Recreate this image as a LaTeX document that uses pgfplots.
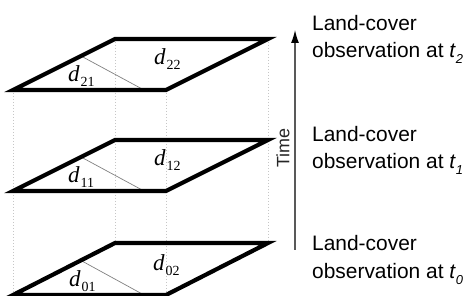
\documentclass[border=0pt]{standalone}
\usepackage{pgfplots}
\pgfplotsset{compat=1.18}
\usepackage{fontspec}
\setmainfont{Liberation Sans}
\newfontfamily\tms{Liberation Serif}
\usetikzlibrary{arrows.meta}
\newcommand\dl[1]{{\tms\fontsize{23}{23}\selectfont\itshape d\upshape\hspace{1bp}\raisebox{-5bp}{\fontsize{14}{14}\selectfont #1}}}
\newcommand\tl[1]{\textit{t}\raisebox{-6bp}{\fontsize{13}{13}\selectfont\itshape #1}}
\begin{document}
\begin{tikzpicture}
\begin{axis}[at={(0,0)},anchor=south west,scale only axis,width=468bp,height=296bp,
  xmin=0,xmax=468,ymin=0,ymax=296,hide axis,clip=false]
% dotted guide lines
\addplot[gray!45,line width=0.6bp,dash pattern=on 1.5bp off 1.5bp] coordinates {(13,206) (13,1)};
\addplot[gray!45,line width=0.6bp,dash pattern=on 1.5bp off 1.5bp] coordinates {(115,257) (115,53)};
\addplot[gray!45,line width=0.6bp,dash pattern=on 1.5bp off 1.5bp] coordinates {(166,206) (166,1)};
\addplot[gray!45,line width=0.6bp,dash pattern=on 1.5bp off 1.5bp] coordinates {(268,257) (268,53)};
% thin diagonals
\addplot[gray,line width=0.7bp] coordinates {(81,240) (144,206)};
\addplot[gray,line width=0.7bp] coordinates {(81,139) (144,105)};
\addplot[gray,line width=0.7bp] coordinates {(81,35.5) (144,1)};
% parallelograms
\addplot[black,line width=4.2bp,line join=miter] coordinates {(13,206) (166,206) (268,257) (115,257)} -- cycle;
\addplot[black,line width=4.2bp,line join=miter] coordinates {(13,105) (166,105) (268,156) (115,156)} -- cycle;
\addplot[black,line width=4.2bp,line join=miter] coordinates {(13,1) (166,1) (268,53) (115,53)} -- cycle;
% time arrow
\addplot[black!65,line width=1.2bp,-{Latex[length=13bp,width=8bp,black]}] coordinates {(295,46) (295,266)};
% labels
\node[anchor=base west,inner sep=0] at (68,214) {\dl{21}};
\node[anchor=base west,inner sep=0] at (154,231) {\dl{22}};
\node[anchor=base west,inner sep=0] at (68,113) {\dl{11}};
\node[anchor=base west,inner sep=0] at (154,130) {\dl{12}};
\node[anchor=base west,inner sep=0] at (69,10) {\dl{01}};
\node[anchor=base west,inner sep=0] at (153,26) {\dl{02}};
\node[rotate=90,inner sep=0,text=black!85,font=\fontsize{18}{18}\selectfont] at (283,148) {Time};
\begin{scope}[every node/.style={anchor=base west,inner sep=0,font=\fontsize{21}{21}\selectfont}]
\node at (312,265) {Land-cover};
\node at (312,238) {observation at \tl{2}};
\node at (312,154) {Land-cover};
\node at (312,127) {observation at \tl{1}};
\node at (312,45) {Land-cover};
\node at (312,18) {observation at \tl{0}};
\end{scope}
\end{axis}
\pgfresetboundingbox
\useasboundingbox (0,0) rectangle (468bp,296bp);
\end{tikzpicture}
\end{document}
